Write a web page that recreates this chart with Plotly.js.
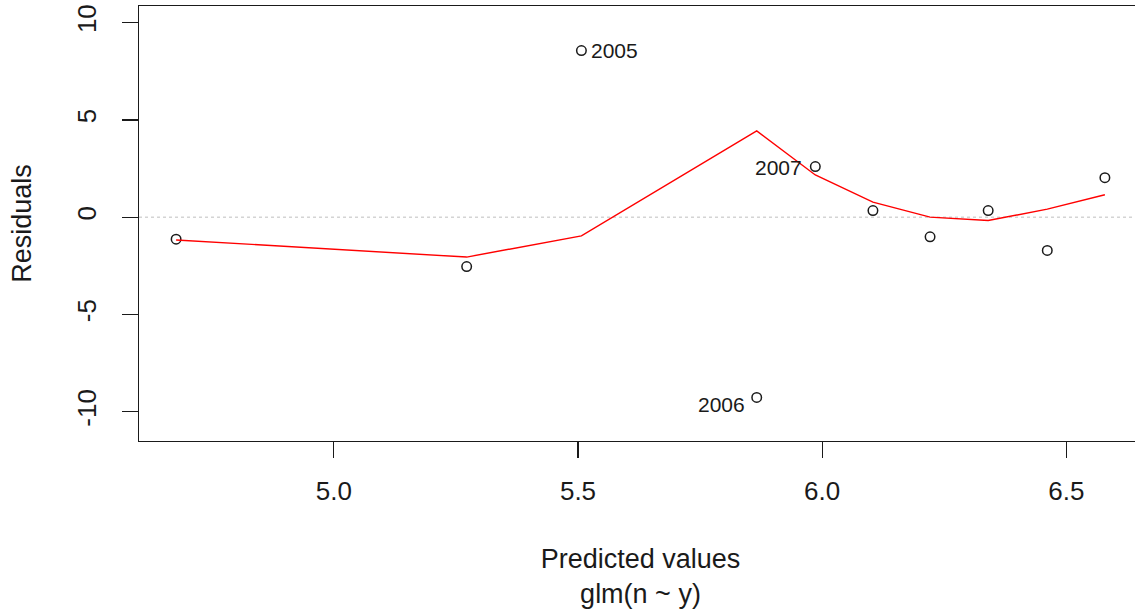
<!DOCTYPE html>
<html>
<head>
<meta charset="utf-8">
<script src="https://cdn.plot.ly/plotly-3.0.1.min.js"></script>
<style>
html, body { margin: 0; padding: 0; overflow: hidden; background: #fff; }
#plot { width: 1142px; height: 613px; }
</style>
</head>
<body>
<div id="plot"></div>
<script>
// Predicted (fitted) values and residuals
const fitted    = [4.677, 5.272, 5.507, 5.866, 5.986, 6.104, 6.221, 6.340, 6.461, 6.579];
const residuals = [-1.13, -2.54, 8.56, -9.26, 2.60, 0.34, -1.01, 0.34, -1.71, 2.03];
// Lowess smooth of residuals on fitted values (red line)
const smooth    = [-1.17, -2.05, -0.96, 4.43, 2.17, 0.77, 0.00, -0.17, 0.41, 1.15];
// Labelled points
const labelIdx  = [2, 3, 4];
const labelText = ["2005", "2006", "2007"];
// Tick labels
const xTicks = [5.0, 5.5, 6.0, 6.5];
const yTicks = [-10, -5, 0, 5, 10];
const yTickText = ["-10", "-5", "0", "5", "10"];

const FONT = "Liberation Sans, Arial, sans-serif";
const INK = "#1a1a1a";

const traces = [
  {
    x: fitted, y: residuals, type: "scatter", mode: "markers",
    marker: { symbol: "circle-open", size: 9.5, color: INK, line: { width: 1.5, color: INK } },
    hoverinfo: "x+y", showlegend: false
  },
  {
    x: fitted, y: smooth, type: "scatter", mode: "lines",
    line: { color: "#ff0000", width: 1.4 },
    hoverinfo: "skip", showlegend: false
  }
];

// label placement: side of point (left/right) and offsets (styling only)
const labelSide   = ["left", "right", "right"];
const labelXShift = [9, -11, -12];
const labelYShift = [0, -7, -1];

const annotations = labelIdx.map((i, k) => ({
  x: fitted[i], y: residuals[i], xref: "x", yref: "y",
  text: labelText[k], showarrow: false,
  xanchor: labelSide[k], yanchor: "middle",
  xshift: labelXShift[k], yshift: labelYShift[k],
  borderpad: 0,
  font: { family: FONT, size: 21, color: INK }
}));

const layout = {
  width: 1142, height: 613,
  margin: { l: 139, r: 0, t: 6, b: 172 },
  paper_bgcolor: "#ffffff", plot_bgcolor: "#ffffff",
  font: { family: FONT, color: INK, size: 26 },
  showlegend: false,
  xaxis: {
    range: [4.601, 6.655],
    tickvals: xTicks, tickformat: ".1f",
    showline: true, mirror: true, linecolor: INK, linewidth: 1.3,
    ticks: "outside", ticklen: 16, tickwidth: 1.3, tickcolor: INK,
    ticklabelstandoff: 10,
    showgrid: false, zeroline: false,
    tickfont: { family: FONT, size: 26, color: INK },
    title: { text: "Predicted values<br>glm(n ~ y)", font: { family: FONT, size: 27, color: INK }, standoff: 44 }
  },
  yaxis: {
    range: [-11.5, 10.85],
    tickvals: yTicks, ticktext: yTickText, tickangle: -90,
    showline: true, mirror: false, linecolor: INK, linewidth: 1.3,
    ticks: "outside", ticklen: 16, tickwidth: 1.3, tickcolor: INK,
    ticklabelstandoff: 15,
    showgrid: false, zeroline: false,
    tickfont: { family: FONT, size: 26, color: INK },
    title: { text: "Residuals", font: { family: FONT, size: 27, color: INK }, standoff: 32 }
  },
  shapes: [
    { type: "line", xref: "paper", x0: 0, x1: 1, yref: "y", y0: 0, y1: 0,
      line: { color: "#bebebe", width: 1, dash: "dot" }, layer: "below" }
  ],
  annotations: annotations
};

Plotly.newPlot("plot", traces, layout, { displayModeBar: false, staticPlot: true });
</script>
</body>
</html>
